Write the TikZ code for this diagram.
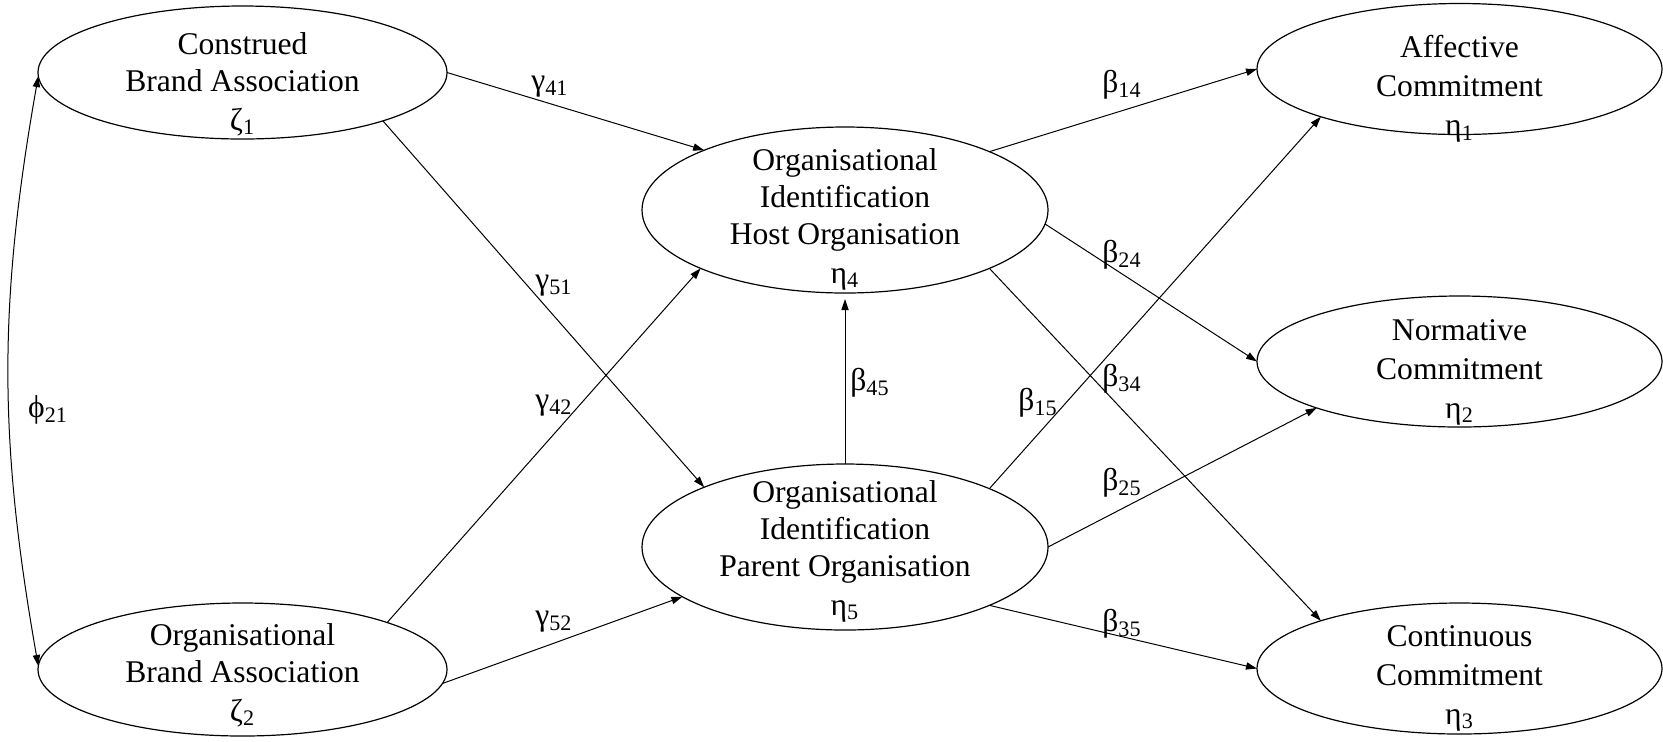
\documentclass[tikz,border=0pt]{standalone}
\usepackage{fontspec}
\setmainfont{Liberation Serif}
\usetikzlibrary{shapes.geometric,arrows.meta}

\begin{document}
\begin{tikzpicture}[
    x=0.5pt, y=-0.5pt,
    latent/.style={ellipse, draw, line width=0.6pt, inner sep=0pt, outer sep=0pt},
    exo/.style={latent, minimum width=204.5pt, minimum height=66.5pt},
    med/.style={latent, minimum width=203pt, minimum height=83pt},
    endo/.style={latent, minimum width=202.5pt, minimum height=65.5pt},
    txt/.style={align=center, inner sep=0pt, font=\fontsize{15.8}{18.5}\selectfont},
    endtxt/.style={txt, font=\fontsize{15.8}{19.5}\selectfont},
    coef/.style={inner sep=0pt, font=\fontsize{15.8}{19}\selectfont},
    link/.style={-{Triangle[length=5.5pt,width=3.6pt]}, line width=0.5pt},
    dbl/.style={{Triangle[length=5.5pt,width=3.6pt]}-{Triangle[length=5.5pt,width=3.6pt]}, line width=0.5pt}
]
    \useasboundingbox (0,0) rectangle (1663,741);

    \node[exo] (z1) at (242.5,72.5) {};
    \node[exo] (z2) at (242.5,669.5) {};
    \node[med] (e4) at (845,210) {};
    \node[med] (e5) at (845,547) {};
    \node[endo] (e1) at (1459.5,69) {};
    \node[endo] (e2) at (1459.5,361.5) {};
    \node[endo] (e3) at (1459.5,668.5) {};

    \node[txt] (z1t) at (242.5,84) {Construed\\Brand Association\\[1pt]ζ\textsubscript{1}};
    \node[txt] (z2t) at (242.5,675) {Organisational\\Brand Association\\[1pt]ζ\textsubscript{2}};
    \node[txt] (e4t) at (845,219) {Organisational\\Identification\\Host Organisation\\[1pt]η\textsubscript{4}};
    \node[txt] (e5t) at (845,551) {Organisational\\Identification\\Parent Organisation\\[1pt]η\textsubscript{5}};
    \node[endtxt] (e1t) at (1459.5,89) {Affective\\Commitment\\η\textsubscript{1}};
    \node[endtxt] (e2t) at (1459.5,372) {Normative\\Commitment\\η\textsubscript{2}};
    \node[endtxt] (e3t) at (1459.5,678) {Continuous\\Commitment\\η\textsubscript{3}};

    \draw[link] (z1.0) -- (e4.157.5);
    \draw[link] (z1.-19) -- (e5.157.5);
    \draw[link] (z2.18) -- (e4.202);
    \draw[link] (z2.-4) -- (e5.197.5);
    \draw[link, shorten >=3pt] (e5.90) -- (e4.270);
    \draw[link] (e4.22) -- (e1.180);
    \draw[link] (e4.-4) -- (e2.180);
    \draw[link] (e4.-22) -- (e3.161.5);
    \draw[link] (e5.22) -- (e1.199.5);
    \draw[link] (e5.0) -- (e2.198.5);
    \draw[link] (e5.-22) -- (e3.180);
    \draw[dbl] (z1.181.5) to[bend right=10] (z2.179);

    \node[coef] (g41) at (550,87) {γ\textsubscript{41}};
    \node[coef] (g51) at (554,286) {γ\textsubscript{51}};
    \node[coef] (g42) at (554,406) {γ\textsubscript{42}};
    \node[coef] (g52) at (554,622) {γ\textsubscript{52}};
    \node[coef] (b14) at (1122,85) {β\textsubscript{14}};
    \node[coef] (b24) at (1122,255) {β\textsubscript{24}};
    \node[coef] (b45) at (870,383) {β\textsubscript{45}};
    \node[coef] (b15) at (1038,403) {β\textsubscript{15}};
    \node[coef] (b34) at (1122,379) {β\textsubscript{34}};
    \node[coef] (b25) at (1122,483) {β\textsubscript{25}};
    \node[coef] (b35) at (1122,624) {β\textsubscript{35}};
    \node[coef] (f21) at (48,410) {ϕ\textsubscript{21}};
\end{tikzpicture}
\end{document}
